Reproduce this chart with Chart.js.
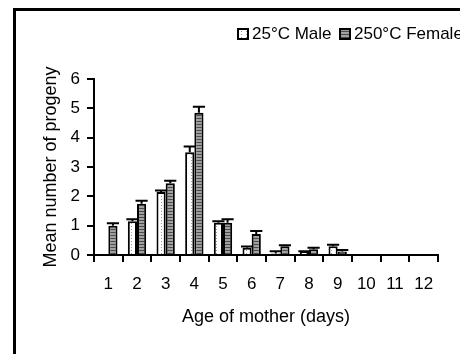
<!DOCTYPE html>
<html>
<head>
<meta charset="utf-8">
<script src="https://cdn.jsdelivr.net/npm/chart.js@4/dist/chart.umd.min.js"></script>
<style>
  body { margin: 0; overflow: hidden; background: #fff; }
  .frame { position: absolute; left: 13px; top: 8px; width: 600px; height: 400px;
           border-left: 3px solid #000; border-top: 3px solid #000; }
  .wrap { position: absolute; left: 0; top: 0; width: 480px; height: 354px; }
</style>
</head>
<body>
<div class="frame"></div>
<div class="wrap"><canvas id="myChart" width="480" height="354"></canvas></div>
<script>
let ages = ["1", "2", "3", "4", "5", "6", "7", "8", "9", "10", "11", "12"];
let maleMeans = [0, 1.15, 2.15, 3.5, 1.1, 0.25, 0.05, 0.1, 0.3, 0, 0, 0];
let maleErr = [0, 0.07, 0.05, 0.2, 0.05, 0.04, 0.08, 0.03, 0.05, 0, 0, 0];
let femaleMeans = [1.0, 1.75, 2.45, 4.85, 1.1, 0.72, 0.3, 0.2, 0.12, 0, 0, 0];
let femaleErr = [0.08, 0.1, 0.08, 0.2, 0.12, 0.1, 0.03, 0.05, 0.05, 0, 0, 0];
let yTicks = [0, 1, 2, 3, 4, 5, 6];

// dotted white fill for the male bars
function dotPattern() {
  let c = document.createElement("canvas");
  c.width = 5;
  c.height = 3;
  let g = c.getContext("2d");
  g.fillStyle = "#fff";
  g.fillRect(0, 0, 5, 3);
  g.fillStyle = "#999";
  g.fillRect(1, 1, 1, 1);
  return g.createPattern(c, "repeat");
}

// grey horizontal stripes for the female bars
function stripePattern() {
  let c = document.createElement("canvas");
  c.width = 4;
  c.height = 3;
  let g = c.getContext("2d");
  g.fillStyle = "#a0a0a0";
  g.fillRect(0, 0, 4, 3);
  g.fillStyle = "#4a4a4a";
  g.fillRect(0, 1, 4, 1);
  return g.createPattern(c, "repeat");
}

let errorBars = {
  id: "errorBars",
  afterDatasetsDraw(chart) {
    let ctx = chart.ctx;
    let y = chart.scales.y;
    let errs = [maleErr, femaleErr];
    ctx.save();
    ctx.strokeStyle = "#000";
    ctx.lineWidth = 2;
    chart.data.datasets.forEach((ds, i) => {
      let meta = chart.getDatasetMeta(i);
      meta.data.forEach((bar, j) => {
        if (ds.data[j] <= 0) return;
        let top = y.getPixelForValue(ds.data[j] + errs[i][j]);
        let base = y.getPixelForValue(ds.data[j]);
        let half = bar.width / 2 + 1.5;
        ctx.beginPath();
        ctx.moveTo(bar.x, base);
        ctx.lineTo(bar.x, top);
        ctx.moveTo(bar.x - half, top);
        ctx.lineTo(bar.x + half, top);
        ctx.stroke();
      });
    });
    ctx.restore();
  },
};

// legend drawn at the top right, running off the edge like the original
let topLegend = {
  id: "topLegend",
  afterDraw(chart) {
    let ctx = chart.ctx;
    let starts = [238, 340];
    ctx.save();
    ctx.font = "17px 'Liberation Sans'";
    ctx.textBaseline = "middle";
    chart.data.datasets.forEach((ds, i) => {
      let x = starts[i];
      ctx.fillStyle = ds.backgroundColor;
      ctx.fillRect(x, 29, 10, 10);
      ctx.strokeStyle = "#000";
      ctx.lineWidth = 2;
      ctx.strokeRect(x, 29, 10, 10);
      ctx.fillStyle = "#000";
      ctx.fillText(ds.label, x + 14, 34);
    });
    ctx.restore();
  },
};

let ctx = document.getElementById("myChart").getContext("2d");
let myChart = new Chart(ctx, {
  type: "bar",
  data: {
    labels: ages,
    datasets: [
      {
        label: "25°C Male",
        data: maleMeans,
        backgroundColor: dotPattern(),
        borderColor: "#000",
        borderWidth: 2,
        borderSkipped: "bottom",
      },
      {
        label: "250°C Female",
        data: femaleMeans,
        backgroundColor: stripePattern(),
        borderColor: "#000",
        borderWidth: 2,
        borderSkipped: "bottom",
      },
    ],
  },
  options: {
    responsive: false,
    animation: false,
    layout: {
      padding: { left: 36, top: 79, right: 42, bottom: 22 },
    },
    datasets: {
      bar: { barPercentage: 1, categoryPercentage: 0.64 },
    },
    plugins: {
      tooltip: { enabled: false },
      legend: { display: false },
    },
    scales: {
      x: {
        afterFit: (scale) => {
          scale.height = 77;
        },
        grid: {
          drawOnChartArea: false,
          offset: true,
          color: "#000",
          lineWidth: 2,
          tickLength: 7,
        },
        border: { color: "#000", width: 2 },
        ticks: {
          color: "#000",
          padding: 12,
          font: { family: "Liberation Sans", size: 17 },
        },
        title: {
          display: true,
          text: "Age of mother (days)",
          color: "#000",
          font: { family: "Liberation Sans", size: 18 },
        },
      },
      y: {
        min: 0,
        max: 6,
        afterBuildTicks: (scale) => {
          scale.ticks = yTicks.map((v) => ({ value: v }));
        },
        afterFit: (scale) => {
          scale.width = 58;
        },
        grid: {
          drawOnChartArea: false,
          color: "#000",
          lineWidth: 2,
          tickLength: 7,
        },
        border: { color: "#000", width: 2 },
        ticks: {
          color: "#000",
          padding: 7,
          font: { family: "Liberation Sans", size: 17 },
        },
        title: {
          display: true,
          text: "Mean number of progeny",
          color: "#000",
          font: { family: "Liberation Sans", size: 18 },
        },
      },
    },
  },
  plugins: [errorBars, topLegend],
});
</script>
</body>
</html>
